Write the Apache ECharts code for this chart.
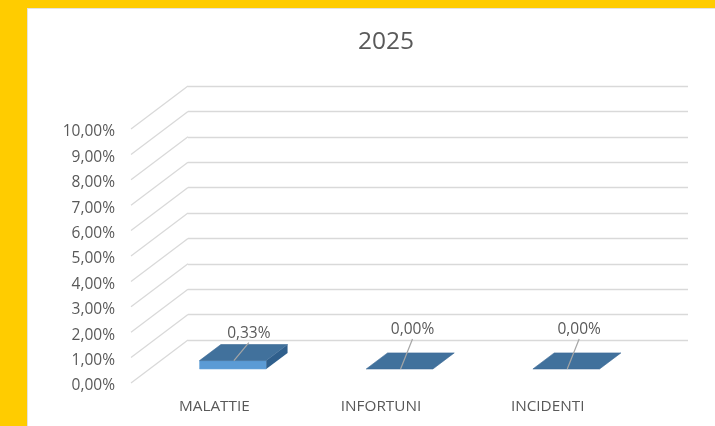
<!DOCTYPE html>
<html>
<head>
<meta charset="utf-8">
<script src="https://cdn.jsdelivr.net/npm/echarts@6/dist/echarts.min.js"></script>
<style>
html,body{margin:0;padding:0;background:#FFCC00;width:715px;height:426px;overflow:hidden;}
#c{position:absolute;left:27px;top:8px;width:688px;height:418px;background:#fff;box-sizing:border-box;border-left:1px solid #e3e3e3;border-top:1px solid #e3e3e3;}
</style>
</head>
<body>
<div id="c"></div>
<script>
const title = '2025';
const categories = ['MALATTIE', 'INFORTUNI', 'INCIDENTI'];
const values = [0.33, 0.00, 0.00];   // percent
const yTicks = [0, 1, 2, 3, 4, 5, 6, 7, 8, 9, 10];

const DX = -57, DY = 43;          // depth offset (back wall -> front plane)
const F_BACK = 0.30, F_FRONT = 0.674;
const fmt = v => v.toFixed(2).replace('.', ',') + '%';

const chart = echarts.init(document.getElementById('c'), null, {renderer: 'canvas'});

function diagItem(params, api) {
  const p = api.coord([0, api.value(0)]);
  const x0 = params.coordSys.x;
  return {
    type: 'line', shape: {x1: x0, y1: p[1], x2: x0 + DX, y2: p[1] + DY},
    style: {stroke: '#d9d9d9', lineWidth: 1.3}
  };
}

function barItem(params, api) {
  const i = api.value(0), v = api.value(1);
  const c0 = api.coord([i, 0]);
  const c1 = api.coord([i, v]);
  const band = api.size([1, 0])[0];
  const w = band * 0.40;
  const cx = c0[0];
  const pt = (f, side, y) => [cx + DX * f + side * w / 2, y + DY * f];
  const fl_b = pt(F_FRONT, -1, c0[1]), fr_b = pt(F_FRONT, 1, c0[1]);
  const fl_t = pt(F_FRONT, -1, c1[1]), fr_t = pt(F_FRONT, 1, c1[1]);
  const bl_t = pt(F_BACK, -1, c1[1]), br_t = pt(F_BACK, 1, c1[1]);
  const br_b = pt(F_BACK, 1, c0[1]);
  const children = [];
  if (c0[1] - c1[1] > 0.5) {
    children.push({type: 'polygon', shape: {points: [fl_b, fr_b, fr_t, fl_t]},
      style: {fill: '#5B9BD5', stroke: '#6aa6dc', lineWidth: 0.6}});
    children.push({type: 'polygon', shape: {points: [fr_b, br_b, br_t, fr_t]},
      style: {fill: '#2F5F8C'}});
  }
  children.push({type: 'polygon', shape: {points: [fl_t, fr_t, br_t, bl_t]},
    style: {fill: '#41719C', stroke: '#3c6a95', lineWidth: 0.6}});
  // data label with leader line
  const backTopY = c1[1] + DY * F_BACK;
  const zeroBackY = c0[1];
  const ly = v > 0 ? backTopY - 13 : zeroBackY - 12;
  const lx = cx + DX * 0.5 + (v > 0 ? 6 : 3);
  const frontMid = [cx + DX * F_FRONT, c1[1] + DY * F_FRONT];
  children.push({type: 'line', shape: {x1: lx, y1: ly + 11, x2: frontMid[0] + 1, y2: frontMid[1]},
    style: {stroke: '#a6a6a6', lineWidth: 1.2}});
  children.push({type: 'text', x: lx, y: ly + 2,
    style: {text: fmt(v), fill: '#595959', font: '15.5px "Open Sans"', align: 'center', verticalAlign: 'middle'}});
  return {type: 'group', children};
}

chart.setOption({
  animation: false,
  title: {
    text: title, left: 353, top: 16, textAlign: 'center',
    textStyle: {fontFamily: 'Open Sans', fontSize: 24.5, fontWeight: 'normal', color: '#595959'}
  },
  grid: [
    {left: 160, right: 27, top: 77, bottom: 86},
    {left: 103, right: 84, top: 123, bottom: 40}
  ],
  xAxis: [
    {type: 'category', gridIndex: 0, data: categories, axisLine: {show: false}, axisTick: {show: false}, axisLabel: {show: false}},
    {type: 'category', gridIndex: 1, data: categories, axisLine: {show: false}, axisTick: {show: false},
     axisLabel: {color: '#595959', fontFamily: 'Open Sans', fontSize: 15.3, margin: 13}}
  ],
  yAxis: [
    {type: 'value', gridIndex: 0, min: 0, max: 10, interval: 1, axisLabel: {show: false},
     axisLine: {show: false}, axisTick: {show: false},
     splitLine: {show: true, lineStyle: {color: '#d9d9d9', width: 1.3}}},
    {type: 'value', gridIndex: 1, min: 0, max: 10, interval: 1,
     axisLine: {show: false}, axisTick: {show: false}, splitLine: {show: false},
     axisLabel: {color: '#595959', fontFamily: 'Open Sans', fontSize: 15.5, margin: 16, formatter: fmt}}
  ],
  series: [
    {type: 'custom', xAxisIndex: 0, yAxisIndex: 0, renderItem: diagItem,
     data: yTicks.map(t => [t]), encode: {y: 0}, silent: true, z: 1},
    {type: 'custom', xAxisIndex: 0, yAxisIndex: 0, renderItem: barItem,
     data: values.map((v, i) => [i, v]), encode: {x: 0, y: 1}, z: 3}
  ]
});
</script>
</body>
</html>
